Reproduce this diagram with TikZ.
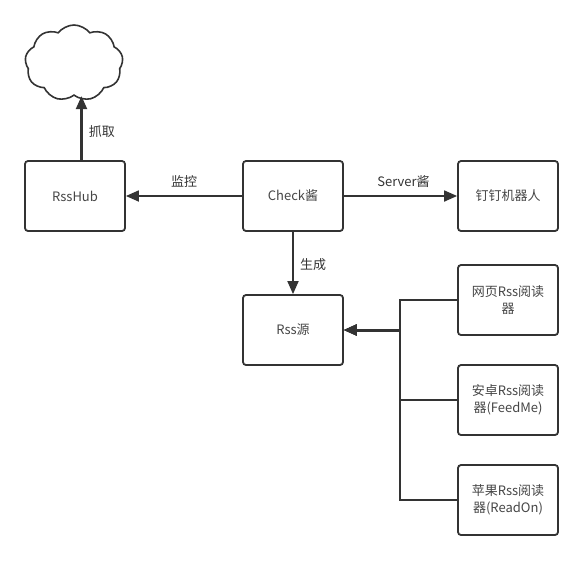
\documentclass[tikz,border=0pt]{standalone}
\usepackage{fontspec}
\setmainfont{Noto Sans CJK SC}
\usepackage{xcolor}
\usetikzlibrary{shapes.symbols, arrows.meta, positioning}
\definecolor{LineDark}{RGB}{51, 51, 51}
\definecolor{TextGray}{RGB}{70, 70, 70}

\begin{document}
\begin{tikzpicture}[x=1pt, y=-1pt,
  box/.style={draw=LineDark, fill=white, rounded corners=3pt, line width=1.8pt,
    minimum width=100pt, minimum height=70pt, text width=94pt, inner sep=1pt,
    align=center, font=\fontsize{13}{17}\selectfont\color{TextGray}},
  arr/.style={-{Triangle[length=13pt, width=11pt]}, LineDark, line width=1.8pt},
  lbl/.style={font=\fontsize{13}{17}\selectfont\color{TextGray}}
]
\useasboundingbox (0,0) rectangle (583,560);
\node[cloud, cloud puffs=9, cloud puff arc=105, aspect=1.3, draw=LineDark, line width=1.6pt,
      minimum width=98pt, minimum height=76pt, inner sep=0pt] (web) at (74,63) {};
\node[box] (hub) at (75,196) {RssHub};
\node[box] (check) at (293,196) {Check酱};
\node[box] (ding) at (508,196) {钉钉机器人};
\node[box] (rss) at (293,330) {Rss源};
\node[box] (page) at (508,300) {网页Rss阅读\\器};
\node[box] (droid) at (508,400) {安卓Rss阅读\\器(FeedMe)};
\node[box] (apple) at (508,500) {苹果Rss阅读\\器(ReadOn)};
\coordinate (bus) at (400,330);
\draw[arr, line width=2.2pt] ([xshift=6.5pt]hub.north) -- ([xshift=6.5pt]hub.north |- web.south) node[lbl, right=3pt, midway, yshift=-3pt] (grab) {抓取};
\draw[arr] (check) -- (hub) node[lbl, above=4pt, midway] (watch) {监控};
\draw[arr] (check) -- (ding) node[lbl, above=4pt, midway, xshift=3pt] (server) {Server酱};
\draw[arr] (check) -- (rss) node[lbl, right=3pt, midway, yshift=-2pt] (make) {生成};
\draw[arr] (page.west) -- (bus |- page.west) -- (bus) -- (rss.east);
\draw[arr] (droid.west) -- (bus |- droid.west) -- (bus) -- (rss.east);
\draw[arr] (apple.west) -- (bus |- apple.west) -- (bus) -- (rss.east);
\draw[arr, line width=3pt] (bus) -- (rss.east);
\end{tikzpicture}
\end{document}
